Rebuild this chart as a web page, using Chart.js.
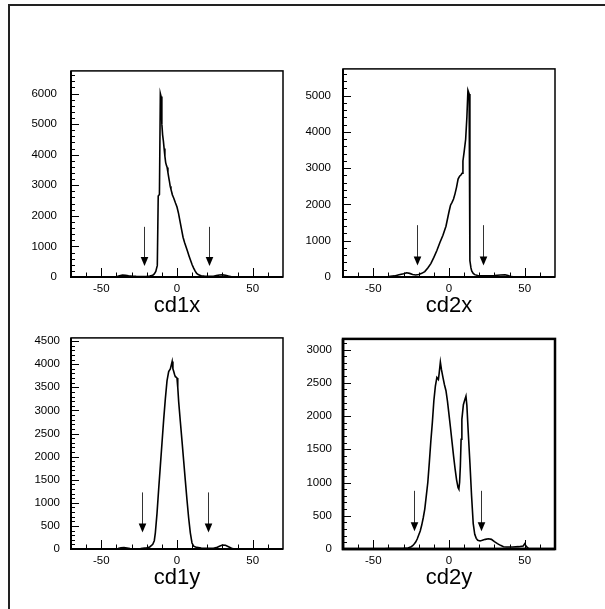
<!DOCTYPE html>
<html><head><meta charset="utf-8">
<script src="https://cdn.jsdelivr.net/npm/chart.js@4.4.1/dist/chart.umd.min.js"></script>
<style>
html,body{margin:0;padding:0;background:#fff;width:605px;height:609px;overflow:hidden;}
#frame{position:absolute;left:8px;top:4px;width:600px;height:610px;border-top:2px solid #222;border-left:2px solid #222;box-sizing:border-box;}
canvas{position:absolute;}
</style></head><body>
<div id="frame"></div>
<canvas id="c1"></canvas>
<canvas id="c2"></canvas>
<canvas id="c3"></canvas>
<canvas id="c4"></canvas>
<script>
// ---------- data ----------
const xTickLabels = [-50, 0, 50];

const cd1xX = [-70,-45,-40,-38,-36,-34,-32,-30,-27,-24,-20,-18,-16,-15,-14,-13,-12.4,-11.6,-11,-10.5,-10,-9.5,-9,-8.5,-8,-7.5,-7,-6.5,-6,-5.5,-5,-4.5,-4,-3,-2,-1,0,1,2,3,4,5,6,7,8,9,10,11,12,13,14,15,16,18,20,22,24,26,28,30,32,34,36,40,70];
const cd1xY = [0,0,10,40,60,55,40,30,20,15,20,30,60,100,180,380,2650,2700,6000,5900,5000,4650,4450,4200,3950,3750,3650,3580,3420,3270,3130,2970,2870,2680,2560,2420,2290,2080,1820,1560,1300,1130,980,830,680,540,400,290,190,120,80,60,40,30,25,20,25,45,65,70,55,30,10,0,0];
const cd1xYTicks = [0,1000,2000,3000,4000,5000,6000];
const cd1xArrowX = [-22, 21];
const cd1xArrowY = [1640, 360];

const cd2xX = [-70,-45,-40,-36,-33,-30,-28,-26,-24,-22,-20,-18,-16,-14,-12,-10,-8,-6,-4,-2,0,1,2,3,4,5,6,7,8,8.6,9.2,10,11,11.8,12.5,13.3,13.8,14.5,15,16,17,19,22,25,30,34,37,39,41,44,70];
const cd2xY = [0,0,10,30,60,90,115,100,70,55,70,100,150,250,370,540,730,950,1150,1400,1800,1980,2060,2150,2300,2480,2700,2780,2820,2860,3200,3450,3800,4400,5150,5050,450,250,170,100,65,40,30,35,40,55,60,40,10,0,0];
const cd2xYTicks = [0,1000,2000,3000,4000,5000];
const cd2xArrowX = [-21.3, 22.3];
const cd2xArrowY = [1430, 320];

const cd1yX = [-70,-42,-39,-37,-35,-33,-31,-28,-24,-20,-18,-16,-15,-14.3,-13.2,-12.1,-11,-9.9,-8.8,-7.7,-6.6,-5.5,-4.4,-3.8,-3.2,-2.7,-2.2,-1.6,-1.1,-0.5,0,0.5,1.1,2.2,3.3,4.4,5.5,6.6,7.7,8.8,9.9,11,13,16,20,24,26,28,30,32,34,36,38,70];
const cd1yY = [0,0,10,25,30,20,10,5,10,25,45,100,180,350,770,1300,1800,2300,2800,3250,3640,3840,3900,3980,4060,3900,3850,3780,3730,3720,3700,3500,3190,2760,2340,1910,1480,1060,670,350,130,60,35,20,15,15,30,60,85,80,50,15,0,0];
const cd1yYTicks = [0,500,1000,1500,2000,2500,3000,3500,4000,4500];
const cd1yArrowX = [-23, 20.2];
const cd1yArrowY = [1225, 357];

const cd2yX = [-70,-45,-40,-35,-30,-27,-25,-24,-23,-22,-21,-20,-19,-18,-17,-16,-15,-14,-13,-12,-11,-10,-9,-8,-7,-6.5,-5.7,-5,-4,-3,-2,-1,0,1,2,3,4,5,6,6.5,7,7.5,8,8.5,9.5,10.5,11.2,11.8,12.7,13.8,14.9,16,17,18,19,20.5,22,24,26,28,30,32,34,36,38,42,46,49,50,51,52.5,55,70];
const cd2yY = [0,0,5,8,10,15,35,50,75,105,150,210,270,360,470,600,800,1000,1300,1620,1900,2230,2450,2580,2550,2640,2810,2700,2580,2470,2380,2220,2020,1820,1610,1400,1210,1040,920,900,1000,1250,1650,1950,2170,2250,2300,2160,1760,1300,800,380,220,160,130,120,130,145,155,145,110,80,55,35,30,30,35,45,80,40,5,0,0];
const cd2yYTicks = [0,500,1000,1500,2000,2500,3000];
const cd2yArrowX = [-22.9, 21];
const cd2yArrowY = [875, 267];

// ---------- drawing ----------
const FONT = "'Liberation Sans', Arial, Helvetica, sans-serif";

function makePanel(id, cfg) {
  const cv = document.getElementById(id);
  const L = 70, T = 15, R = 15, B = 42;
  cv.width = L + cfg.w + R;
  cv.height = T + cfg.h + B;
  cv.style.left = (cfg.left - L) + 'px';
  cv.style.top = (cfg.top - T) + 'px';

  const deco = {
    id: 'rootDeco',
    afterDatasetsDraw(chart) {
      const ctx = chart.ctx, a = chart.chartArea;
      const xs = chart.scales.x, ys = chart.scales.y;
      ctx.save();
      ctx.strokeStyle = '#000';
      ctx.lineWidth = 1;
      // x ticks (minor every 10, major at labels)
      for (let v = -60; v <= 60; v += 10) {
        const px = Math.round(xs.getPixelForValue(v)) + 0.5;
        const len = xTickLabels.includes(v) ? 9 : 4.5;
        ctx.beginPath(); ctx.moveTo(px, a.bottom); ctx.lineTo(px, a.bottom - len); ctx.stroke();
      }
      // y ticks
      for (let v = 0; v <= ys.max + 1e-6; v += cfg.yMinor) {
        const py = Math.round(ys.getPixelForValue(v)) + 0.5;
        const len = cfg.yTicks.includes(Math.round(v)) ? 8 : 4;
        ctx.beginPath(); ctx.moveTo(a.left, py); ctx.lineTo(a.left + len, py); ctx.stroke();
      }
      // frame
      ctx.lineWidth = cfg.frame;
      ctx.strokeRect(a.left, a.top, a.right - a.left, a.bottom - a.top);
      ctx.lineWidth = cfg.axis;
      ctx.beginPath();
      ctx.moveTo(a.left, a.top); ctx.lineTo(a.left, a.bottom); ctx.lineTo(a.right, a.bottom);
      ctx.stroke();
      // arrows
      cfg.arrowX.forEach(xv => {
        const px = Math.round(xs.getPixelForValue(xv)) + 0.5;
        const y0 = ys.getPixelForValue(cfg.arrowY[0]);
        const y1 = ys.getPixelForValue(cfg.arrowY[1]);
        ctx.strokeStyle = '#333'; ctx.lineWidth = 1;
        ctx.beginPath(); ctx.moveTo(px, y0); ctx.lineTo(px, y1 - 8); ctx.stroke();
        ctx.fillStyle = '#000';
        ctx.beginPath();
        ctx.moveTo(px - 3.8, y1 - 9); ctx.lineTo(px + 3.8, y1 - 9); ctx.lineTo(px, y1);
        ctx.closePath(); ctx.fill();
      });
      ctx.restore();
    }
  };

  new Chart(cv, {
    type: 'line',
    data: {
      datasets: [{
        data: cfg.xv.map((x, i) => ({x: x, y: cfg.yv[i]})),
        borderColor: '#000',
        borderWidth: 1.6,
        pointRadius: 0,
        tension: 0,
        fill: false
      }]
    },
    options: {
      responsive: false,
      animation: false,
      devicePixelRatio: 1,
      layout: {padding: {top: T, right: R, bottom: 0, left: 0}},
      plugins: {legend: {display: false}, tooltip: {enabled: false}},
      scales: {
        x: {
          type: 'linear', min: -70, max: 70,
          afterBuildTicks: s => { s.ticks = xTickLabels.map(v => ({value: v})); },
          afterFit: s => { s.height = B; },
          grid: {display: false, drawTicks: false},
          border: {display: false},
          ticks: {color: '#000', padding: 5, maxRotation: 0, font: {family: FONT, size: 11.5},
                  callback: v => String(v)},
          title: {display: true, text: cfg.title, color: '#000', padding: {top: 0, bottom: 0},
                  font: {family: FONT, size: 22}}
        },
        y: {
          type: 'linear', min: 0, max: cfg.ymax,
          afterBuildTicks: s => { s.ticks = cfg.yTicks.map(v => ({value: v})); },
          afterFit: s => { s.width = L; },
          grid: {display: false, drawTicks: false},
          border: {display: false},
          ticks: {color: '#000', padding: cfg.yPad, font: {family: FONT, size: 11.5},
                  callback: v => String(v)}
        }
      }
    },
    plugins: [deco]
  });
}

makePanel('c1', {left: 71, top: 65, w: 212, h: 212, ymax: 6740, yTicks: cd1xYTicks, yMinor: 200, yPad: 14,
  frame: 1.5, axis: 2, xv: cd1xX, yv: cd1xY, arrowX: cd1xArrowX, arrowY: cd1xArrowY, title: 'cd1x'});
makePanel('c2', {left: 343, top: 65, w: 212, h: 212, ymax: 5740, yTicks: cd2xYTicks, yMinor: 200, yPad: 12,
  frame: 1.5, axis: 2, xv: cd2xX, yv: cd2xY, arrowX: cd2xArrowX, arrowY: cd2xArrowY, title: 'cd2x'});
makePanel('c3', {left: 71, top: 335, w: 212, h: 214, ymax: 4570, yTicks: cd1yYTicks, yMinor: 100, yPad: 11,
  frame: 1.5, axis: 2, xv: cd1yX, yv: cd1yY, arrowX: cd1yArrowX, arrowY: cd1yArrowY, title: 'cd1y'});
makePanel('c4', {left: 343, top: 336, w: 212, h: 213, ymax: 3160, yTicks: cd2yYTicks, yMinor: 100, yPad: 11,
  frame: 2.5, axis: 2.5, xv: cd2yX, yv: cd2yY, arrowX: cd2yArrowX, arrowY: cd2yArrowY, title: 'cd2y'});
</script>
</body></html>
